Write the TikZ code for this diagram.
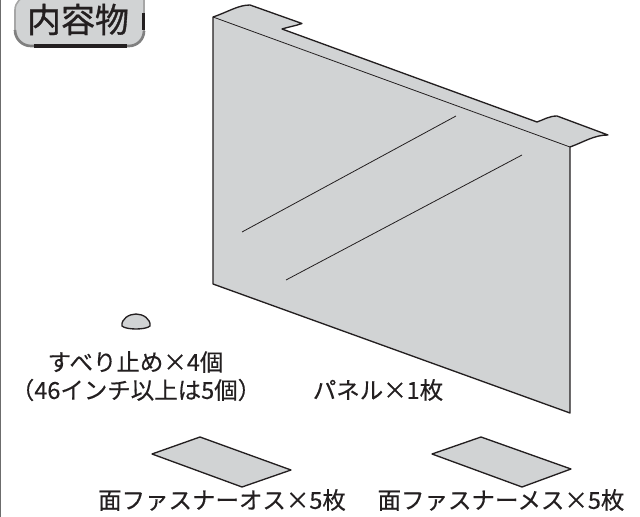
\documentclass[tikz,border=0pt]{standalone}
\usepackage{fontspec}
\setmainfont{Noto Sans CJK JP}
\newfontfamily\titlefont{Noto Sans CJK JP}[FakeBold=0.9]
\newfontfamily\capfont{Noto Sans CJK JP}[FakeBold=0.35]
\definecolor{panelgray}{HTML}{D1D3D4}
\definecolor{inkline}{HTML}{231F20}
\tikzset{
  part/.style={draw=inkline,fill=panelgray,line width=1pt,line join=round},
  fold/.style={draw=inkline,line width=0.6pt},
  caption/.style={text=inkline,font=\fontsize{17.6pt}{20pt}\selectfont\capfont,inner sep=0pt,align=center,anchor=center},
}
\begin{document}
\begin{tikzpicture}[x=0.75pt,y=-0.75pt]
\useasboundingbox (0,0) rectangle (640,517);
\begin{scope}
\clip (0,0) rectangle (640,517);
% page rule
\fill[gray!85!black] (0,0) rectangle (1.4,517);
% title badge
\draw[draw=gray!70,fill=panelgray,line width=1.2pt] (30,-4) -- (130,-4) arc[start angle=90,end angle=0,radius=14] -- (144,31)
  arc[start angle=0,end angle=90,radius=15] -- (31,46)
  arc[start angle=90,end angle=180,radius=16] -- (15,10)
  arc[start angle=180,end angle=270,radius=14] -- cycle;
\draw[gray,line width=2pt] (144,31) arc[start angle=0,end angle=90,radius=15] -- (31,46) arc[start angle=90,end angle=180,radius=16];
\draw[inkline,line width=2.4pt] (34,46) -- (127,46);
\draw[inkline,line width=2.4pt] (143.5,13) -- (143.5,30);
% panel
\draw[part] (213,17) .. controls (228,12) and (238,5) .. (250,5) -- (302,23.5)
  .. controls (295,26) and (288,27) .. (282,29) -- (537,122)
  .. controls (543,120) and (549,116) .. (557,116) -- (608,135)
  .. controls (594,135) and (584,142) .. (570,147) -- (570,413) -- (213,284) -- cycle;
\draw[fold] (213,17) -- (570,147);
\draw[fold] (242,232) -- (456,116);
\draw[fold] (286,280) -- (522,155);
% non-slip pad
\draw[part] (122,326) .. controls (121,319) and (129,314) .. (136,314)
  .. controls (143,314) and (151,319) .. (150,326)
  .. controls (146,330) and (126,330) .. (122,326) -- cycle;
% fastener sheets
\draw[part] (152,454) -- (200,437) -- (291,470) -- (242,487) -- cycle;
\draw[part] (432,454) -- (481,437) -- (571,469) -- (522,487) -- cycle;
\end{scope}
% texts
\node[text=inkline,inner sep=0pt,font=\fontsize{25.5pt}{28pt}\selectfont\titlefont] (title) at (78,19.5) {内容物};
\node[caption] (pad1) at (135.5,362) {すべり止め×4個};
\node[caption] (pad2) at (136,390) {\kern-0.35em（46インチ以上は5個）\kern-0.35em};
\node[caption] (panel) at (378,390) {パネル×1枚};
\node[caption] (male) at (222,500) {面ファスナーオス×5枚};
\node[caption] (female) at (501,500) {面ファスナーメス×5枚};
\end{tikzpicture}
\end{document}
